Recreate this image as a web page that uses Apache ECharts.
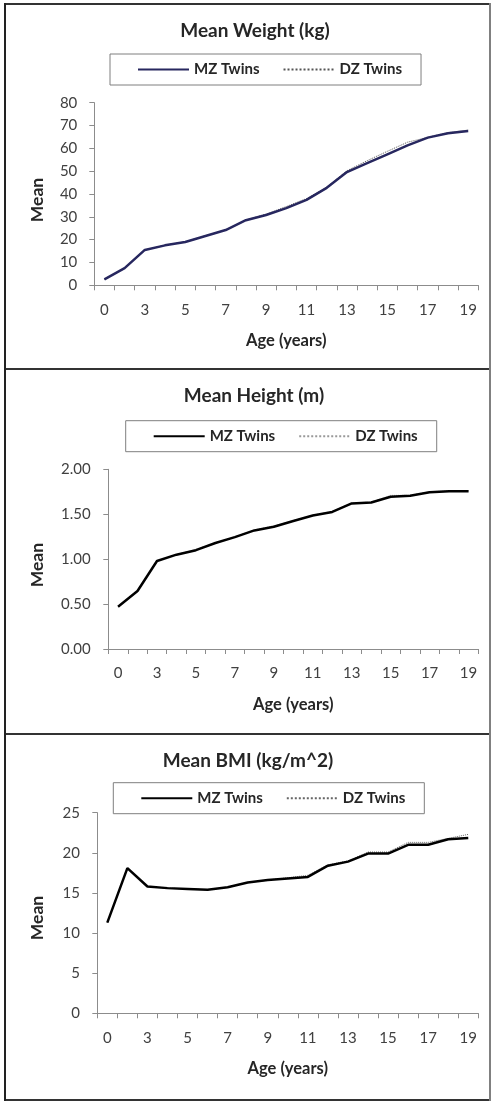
<!DOCTYPE html>
<html><head><meta charset="utf-8">
<script src="https://cdn.jsdelivr.net/npm/echarts@6/dist/echarts.min.js"></script>
<style>
html,body{margin:0;padding:0;background:#fff;}
#wrap{position:relative;width:496px;height:1105px;overflow:hidden;}
.c{position:absolute;left:0;width:496px;}
</style></head>
<body><div id="wrap">
<div id="c1" class="c" style="top:0px;height:373px"></div>
<div id="c2" class="c" style="top:365px;height:373px"></div>
<div id="c3" class="c" style="top:730px;height:374px"></div>
</div>
<script>
// ---- data ----
const ages = ['0','1','3','4','5','6','7','8','9','10','11','12','13','14','15','16','17','18','19'];
const weightMZ = [2.6,7.5,15.5,17.5,19.0,21.6,24.2,28.5,30.8,33.8,37.4,42.7,49.6,53.5,57.4,61.3,64.7,66.6,67.6];
const weightDZ = [2.6,7.6,15.5,17.6,19.1,21.7,24.3,28.6,31.2,34.5,38.0,43.0,50.2,54.6,58.7,62.7,64.8,66.9,68.0];
const heightMZ = [0.47,0.645,0.98,1.05,1.10,1.18,1.245,1.32,1.36,1.425,1.485,1.525,1.62,1.63,1.695,1.705,1.745,1.755,1.755];
const heightDZ = [0.47,0.645,0.98,1.05,1.11,1.18,1.25,1.325,1.37,1.43,1.49,1.53,1.625,1.635,1.71,1.71,1.75,1.76,1.76];
const bmiMZ = [11.3,18.1,15.8,15.6,15.5,15.4,15.7,16.3,16.6,16.8,17.0,18.4,18.9,19.9,19.9,21.0,21.0,21.7,21.85];
const bmiDZ = [11.3,18.1,15.8,15.6,15.5,15.4,15.7,16.3,16.6,16.9,17.2,18.5,19.0,20.1,20.1,21.3,21.3,21.8,22.3];
const titles = ['Mean Weight (kg)','Mean Height (m)','Mean BMI (kg/m^2)'];
const seriesNames = ['MZ Twins','DZ Twins'];
const xName = 'Age (years)';
const yName = 'Mean';

const FONT = 'Lato';

function panel(el, cfg){
  const ch = echarts.init(document.getElementById(el), null, {renderer:'canvas'});
  const H = cfg.panelH;
  ch.setOption({
    animation:false,
    backgroundColor:'transparent',
    textStyle:{fontFamily:FONT},
    title:{text:cfg.title,left:cfg.titleX,top:cfg.titleTop,textAlign:'center',
      textStyle:{fontFamily:FONT,fontWeight:'bold',fontSize:19,color:'#262626'}},
    legend:{data:seriesNames,left:cfg.legLeft,top:cfg.legTop,orient:'horizontal',
      itemWidth:51,itemHeight:12,itemGap:23,padding:[8,19,8,27],
      borderColor:'#7f7f7f',borderWidth:1,
      itemStyle:{opacity:0},
      textStyle:{fontFamily:FONT,fontWeight:'bold',fontSize:15,color:'#262626'}},
    grid:{left:cfg.gl,right:17.7,top:cfg.gt,bottom:cfg.gb,containLabel:false},
    xAxis:{type:'category',data:ages,boundaryGap:true,
      axisLine:{lineStyle:{color:'#8c8c8c',width:1}},
      axisTick:{show:true,interval:0,length:5,lineStyle:{color:'#8c8c8c'}},
      axisLabel:{interval:1,margin:17,fontFamily:FONT,fontSize:15,color:'#404040'},
      name:xName,nameLocation:'middle',nameGap:47,
      nameTextStyle:{fontFamily:FONT,fontWeight:'bold',fontSize:16.5,color:'#262626'}},
    yAxis:{type:'value',min:0,max:cfg.ymax,interval:cfg.yint,
      splitLine:{show:false},
      axisLine:{show:true,lineStyle:{color:'#8c8c8c',width:1}},
      axisTick:{show:true,length:5,lineStyle:{color:'#8c8c8c'}},
      axisLabel:{margin:cfg.lm,fontFamily:FONT,fontSize:15,color:'#404040',
        formatter:v=>cfg.dec?v.toFixed(cfg.dec):String(v)},
      name:yName,nameLocation:'middle',nameGap:cfg.yng,nameRotate:90,
      nameTextStyle:{fontFamily:FONT,fontWeight:'bold',fontSize:17.5,color:'#262626',padding:[0,cfg.yshift,0,0]}},
    graphic:[
      {type:'line',shape:{x1:5,y1:4,x2:490,y2:4},style:{stroke:'#333',lineWidth:2},silent:true},
      {type:'line',shape:{x1:5,y1:4+H,x2:490,y2:4+H},style:{stroke:'#333',lineWidth:2},silent:true},
      {type:'line',shape:{x1:5,y1:3,x2:5,y2:5+H},style:{stroke:'#222',lineWidth:2},silent:true},
      {type:'line',shape:{x1:490,y1:3,x2:490,y2:5+H},style:{stroke:'#808080',lineWidth:2},silent:true}
    ],
    series:[
      {name:'DZ Twins',type:'line',data:cfg.dz,symbol:'none',
        lineStyle:{color:cfg.dzColor,width:1,type:'dotted'},itemStyle:{color:cfg.dzColor,opacity:0}},
      {name:'MZ Twins',type:'line',data:cfg.mz,symbol:'none',
        lineStyle:{color:cfg.mzColor,width:2.5},itemStyle:{color:cfg.mzColor,opacity:0}}
    ]
  });
}

panel('c1',{title:titles[0],titleX:250,titleTop:16,legLeft:110,legTop:54,
  gl:94.3,gt:102.7,gb:87.7,ymax:80,yint:10,lm:17,yng:48,dec:0,yshift:12,
  mz:weightMZ,dz:weightDZ,mzColor:'#27275f',dzColor:'#555',panelH:365});
panel('c2',{title:titles[1],titleX:249,titleTop:16,legLeft:125.7,legTop:55.7,
  gl:108.3,gt:104.3,gb:89,ymax:2,yint:0.5,lm:17.6,yng:62,dec:2,yshift:12,
  mz:heightMZ,dz:heightDZ,mzColor:'#000',dzColor:'#999',panelH:365});
panel('c3',{title:titles[2],titleX:243,titleTop:16.5,legLeft:113.3,legTop:52.7,
  gl:97.3,gt:82.7,gb:90.7,ymax:25,yint:5,lm:17.3,yng:51,dec:0,yshift:10,
  mz:bmiMZ,dz:bmiDZ,mzColor:'#000',dzColor:'#666',panelH:366});
</script>
</body></html>
